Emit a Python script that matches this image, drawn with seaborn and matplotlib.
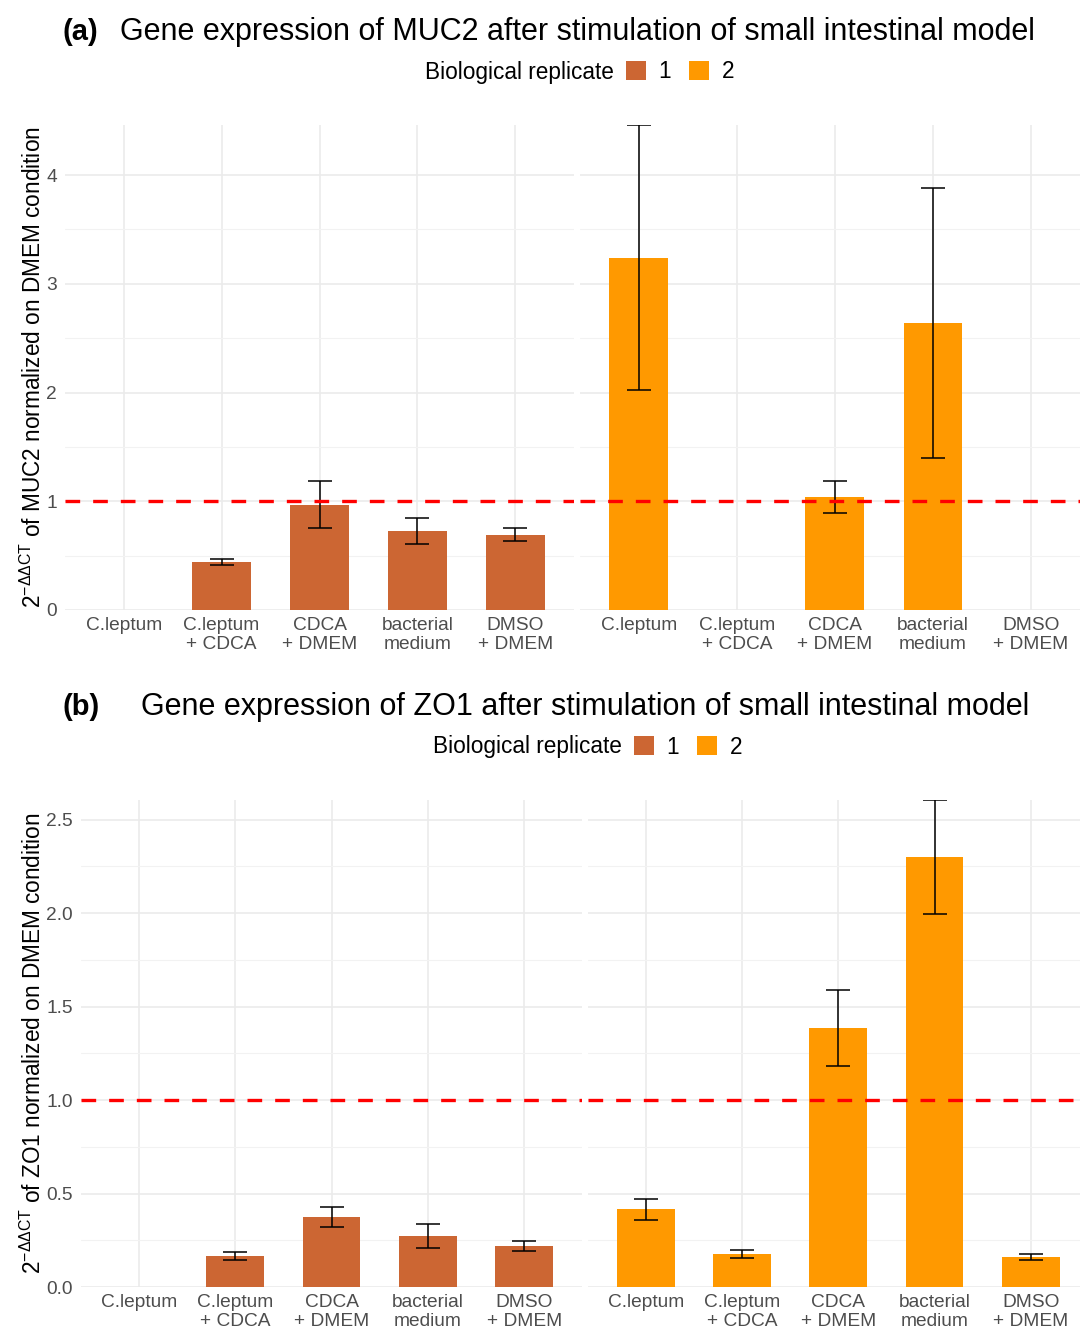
import numpy as np
import pandas as pd
import matplotlib
matplotlib.use("Agg")
import matplotlib.pyplot as plt
import seaborn as sns
from matplotlib.patches import Patch

# ---------------- data ----------------
conditions = ["C.leptum", "C.leptum\n+ CDCA", "CDCA\n+ DMEM", "bacterial\nmedium", "DMSO\n+ DMEM"]
replicates = ["1", "2"]
rep_colors = ["#CC6633", "#FF9900"]

muc2_rep1_mean = [np.nan, 0.44, 0.97, 0.73, 0.69]
muc2_rep1_err = [np.nan, 0.03, 0.22, 0.12, 0.06]
muc2_rep2_mean = [3.24, np.nan, 1.04, 2.64, np.nan]
muc2_rep2_err = [1.22, np.nan, 0.15, 1.24, np.nan]

zo1_rep1_mean = [np.nan, 0.166, 0.375, 0.273, 0.22]
zo1_rep1_err = [np.nan, 0.021, 0.052, 0.062, 0.026]
zo1_rep2_mean = [0.417, 0.177, 1.387, 2.30, 0.16]
zo1_rep2_err = [0.056, 0.021, 0.204, 0.305, 0.016]

muc2_ticks = [0, 1, 2, 3, 4]
zo1_ticks = [0.0, 0.5, 1.0, 1.5, 2.0, 2.5]

# ---------------- style ----------------
sns.set_style("white")
plt.rcParams["font.family"] = ["Liberation Sans", "DejaVu Sans"]
plt.rcParams["text.color"] = "black"
plt.rcParams["mathtext.fontset"] = "custom"
plt.rcParams["mathtext.rm"] = "Liberation Sans"
plt.rcParams["mathtext.it"] = "Liberation Sans"
plt.rcParams["mathtext.bf"] = "Liberation Sans:bold"

W, H = 1080, 1328
DPI = 100
fig = plt.figure(figsize=(W / DPI, H / DPI), dpi=DPI)
fig.patch.set_facecolor("white")

TICK_FS = 13.8
TICK_COLOR = "#4D4D4D"
TITLE_FS = 22
LEG_FS = 16.3
YLAB_FS = 16.3


def add_ax(x0, x1, ytop, ybot):
    return fig.add_axes([x0 / W, 1 - ybot / H, (x1 - x0) / W, (ybot - ytop) / H])


def draw_facet(ax, means, errs, color, ticks, ymax, xlim, show_y):
    df = pd.DataFrame({"condition": conditions, "value": means})
    sns.barplot(data=df, x="condition", y="value", order=conditions, color=color,
                width=0.6, errorbar=None, saturation=1, edgecolor="none", ax=ax)
    xs = np.arange(len(conditions))
    ax.set_xlim(*xlim)
    ax.set_ylim(0, ymax)
    # cap width = 0.25 data units
    ax_w_px = ax.get_position().width * W
    px_per_unit = ax_w_px / (xlim[1] - xlim[0])
    cap_pt = 0.125 * px_per_unit * 72 / DPI
    ax.errorbar(xs, means, yerr=errs, fmt="none", ecolor="black",
                elinewidth=1.1, capsize=cap_pt, capthick=1.1, zorder=4)
    ax.axhline(1, color="red", linestyle=(0, (4.4, 3.9)), linewidth=2.4, zorder=5)

    ax.set_yticks(ticks)
    step = ticks[1] - ticks[0]
    minors = [t + step / 2 for t in ticks if t + step / 2 < ymax]
    ax.set_yticks(minors, minor=True)
    ax.grid(which="major", axis="both", color="#EBEBEB", linewidth=1.2)
    ax.grid(which="minor", axis="y", color="#F2F2F2", linewidth=0.8)
    ax.set_axisbelow(True)
    for s in ax.spines.values():
        s.set_visible(False)
    ax.tick_params(axis="both", which="both", length=0)
    ax.tick_params(axis="x", pad=5, labelsize=TICK_FS, labelcolor=TICK_COLOR)
    ax.tick_params(axis="y", pad=6, labelsize=TICK_FS, labelcolor=TICK_COLOR)
    for lab in ax.get_xticklabels():
        lab.set_linespacing(1.12)
    if show_y:
        if any(t % 1 for t in ticks):
            ax.set_yticklabels([f"{t:.1f}" for t in ticks])
        else:
            ax.set_yticklabels([str(t) for t in ticks])
    else:
        ax.set_yticklabels([])
    ax.set_xlabel("")
    ax.set_ylabel("")


def legend_row(y_px, x_title_end):
    fig.text(x_title_end / W, 1 - y_px / H, "Biological replicate", fontsize=LEG_FS,
             ha="right", va="center", color="black")
    handles = [Patch(facecolor=c, edgecolor="none") for c in rep_colors]
    fig.legend(handles, replicates, loc="center left",
               bbox_to_anchor=((x_title_end + 12) / W, 1 - y_px / H),
               ncol=2, frameon=False, fontsize=LEG_FS, handlelength=0.88, handleheight=0.88,
               handletextpad=0.55, columnspacing=0.8, borderaxespad=0, borderpad=0,
               labelcolor="black")


# ---------------- panel (a) MUC2 ----------------
ymax_a = np.nanmax(np.array(muc2_rep2_mean) + np.array(muc2_rep2_err))
ax1 = add_ax(65, 574, 125, 610)
draw_facet(ax1, muc2_rep1_mean, muc2_rep1_err, rep_colors[0], muc2_ticks, ymax_a, (-0.6, 4.6), True)
ax2 = add_ax(580, 1080, 125, 610)
draw_facet(ax2, muc2_rep2_mean, muc2_rep2_err, rep_colors[1], muc2_ticks, ymax_a, (-0.6, 4.5), False)

fig.text(63 / W, 1 - 40 / H, "(a)", fontsize=21, fontweight="bold", ha="left", va="baseline")
fig.text(577 / W, 1 - 40 / H, "Gene expression of MUC2 after stimulation of small intestinal model",
         fontsize=TITLE_FS, ha="center", va="baseline")
legend_row(72, 614)
fig.text(33 / W, 1 - 367 / H,
         r"$2^{-\Delta\Delta\mathrm{CT}}$ of MUC2 normalized on DMEM condition",
         rotation=90, fontsize=YLAB_FS, ha="center", va="center")

# ---------------- panel (b) ZO1 ----------------
ymax_b = np.nanmax(np.array(zo1_rep2_mean) + np.array(zo1_rep2_err))
ax3 = add_ax(81, 582, 800, 1287)
draw_facet(ax3, zo1_rep1_mean, zo1_rep1_err, rep_colors[0], zo1_ticks, ymax_b, (-0.6, 4.6), True)
ax4 = add_ax(588, 1080, 800, 1287)
draw_facet(ax4, zo1_rep2_mean, zo1_rep2_err, rep_colors[1], zo1_ticks, ymax_b, (-0.6, 4.51), False)

fig.text(63 / W, 1 - 715 / H, "(b)", fontsize=21, fontweight="bold", ha="left", va="baseline")
fig.text(585 / W, 1 - 715 / H, "Gene expression of ZO1 after stimulation of small intestinal model",
         fontsize=TITLE_FS, ha="center", va="baseline")
legend_row(747, 622)
fig.text(33 / W, 1 - 1043 / H,
         r"$2^{-\Delta\Delta\mathrm{CT}}$ of ZO1 normalized on DMEM condition",
         rotation=90, fontsize=YLAB_FS, ha="center", va="center")

fig.savefig("out.png", dpi=DPI, facecolor="white")
